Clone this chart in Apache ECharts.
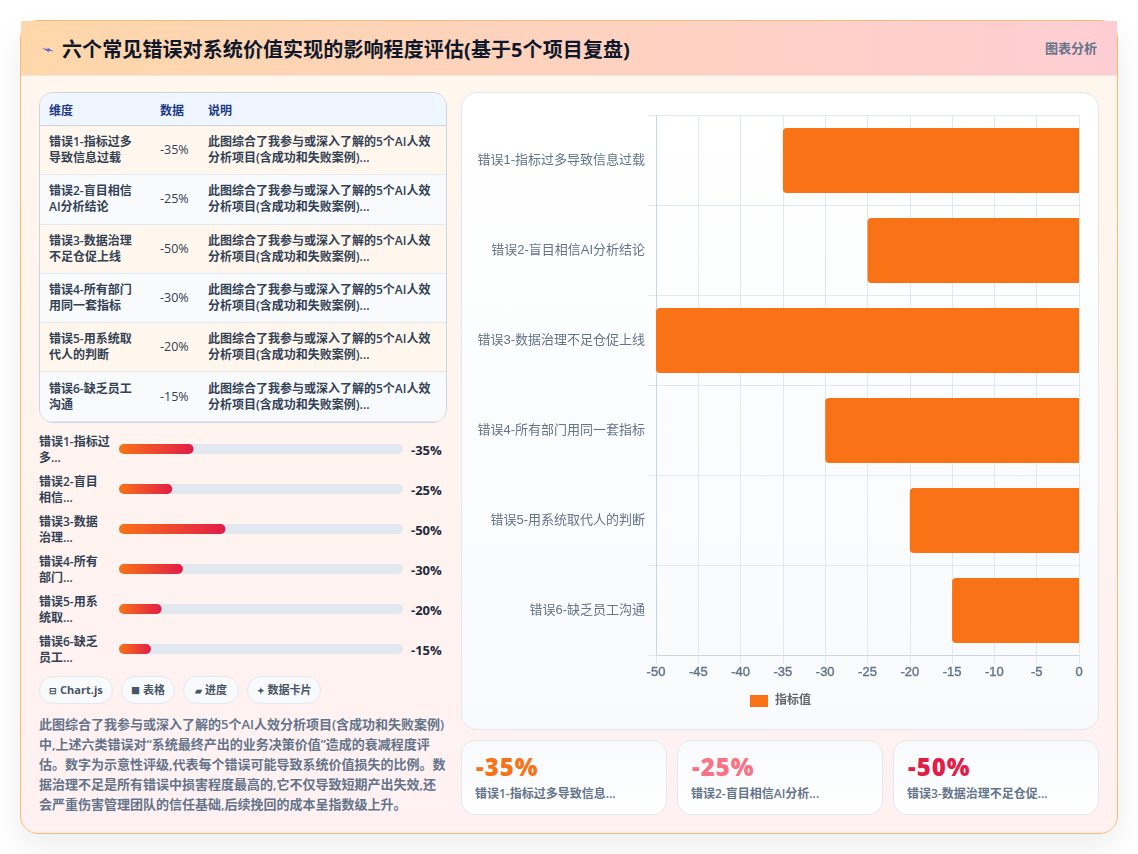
<!DOCTYPE html>
<html lang="zh-CN">
<head>
<meta charset="utf-8">
<title>六个常见错误对系统价值实现的影响程度评估</title>
<script src="https://cdn.jsdelivr.net/npm/echarts@6/dist/echarts.min.js"></script>
<style>
  * { box-sizing: border-box; margin: 0; padding: 0; }
  html, body { width: 1138px; height: 854px; background: #fff; overflow: hidden;
    font-family: "Open Sans", "Noto Sans CJK SC", sans-serif; }
  .card { position: absolute; left: 20px; top: 20px; width: 1098px; height: 814px;
    border: 1px solid #fdba74; border-radius: 18px;
    background: linear-gradient(180deg, #fff7ed, #fff1f2);
    box-shadow: 0 12px 30px rgba(15, 23, 42, .08); }
  .head { position: absolute; left: 0; top: 0; width: 1096px; height: 55px;
    background: linear-gradient(90deg, #fed7aa, #fecdd3);
    border-bottom: 1px solid #f1e4dc; }
  .head svg { position: absolute; left: 21px; top: 26px; }
  .head h1 { position: absolute; left: 41px; top: 15px; font-size: 20px; line-height: 28px;
    font-weight: 700; color: #0f172a; white-space: nowrap; letter-spacing: .1px; }
  .head .tag { position: absolute; right: 20px; top: 18px; font-size: 13px; line-height: 18px;
    font-weight: 600; color: #64748b; }
  .tbl { position: absolute; left: 39px; top: 92px; width: 408px; height: 331px;
    border: 1px solid #cbd5e1; border-radius: 14px; overflow: hidden; }
  .tbl .row { position: absolute; left: 0; width: 406px; border-bottom: 1px solid #e2e8f0;
    font-size: 12px; line-height: 16px; font-weight: 600; color: #334155; }
  .tbl .row span { position: absolute; top: 50%; transform: translateY(-50%); }
  .tbl .row .c1 { left: 9px; width: 92px; }
  .tbl .row .c2 { left: 120px; font-weight: 400; font-size: 12.5px; }
  .tbl .row .c3 { left: 168px; width: 228px; }
  .tbl .th { background: #eff6ff; color: #1e3a8a; border-bottom-color: #cbd5e1; }
  .tbl .th span { top: 55%; }
  .plabel { position: absolute; left: 39px; width: 76px; font-size: 12px; line-height: 16px;
    font-weight: 600; color: #334155; }
  .pval { position: absolute; left: 411px; font-size: 13px; line-height: 16px;
    font-weight: 700; color: #1e293b; }
  .pills { position: absolute; left: 39px; top: 676px; display: flex; gap: 8px; }
  .pill { height: 28px; line-height: 26px; border: 1px solid #e2e8f0; text-align: center;
    border-radius: 14px; background: #f8fafc; font-size: 11px; font-weight: 700; color: #475569;
    white-space: nowrap; }
  .pill:nth-child(1), .pill:nth-child(4) { width: 74px; }
  .pill:nth-child(2) { width: 54px; }
  .pill:nth-child(3) { width: 56px; }
  .pill em { font-style: normal; font-size: 9px; }
  .note { position: absolute; left: 39px; top: 714px; width: 408px; font-size: 13px;
    line-height: 20px; font-weight: 600; color: #64748b; }
  .panel { position: absolute; left: 461px; top: 92px; width: 638px; height: 638px;
    border: 1px solid #e2e8f0; border-radius: 16px;
    background: linear-gradient(180deg, #fff, #f8fafc); }
  .kpi { position: absolute; top: 740px; width: 206px; height: 75px;
    border: 1px solid #e2e8f0; border-radius: 14px;
    background: linear-gradient(180deg, #f8fafc, #fff); }
  .kpi b { position: absolute; left: 14px; top: 10px; font-size: 24px; line-height: 32px;
    font-weight: 800; letter-spacing: 1px; }
  .kpi i { position: absolute; left: 13px; top: 45px; font-style: normal; font-size: 12px;
    line-height: 16px; font-weight: 600; color: #64748b; white-space: nowrap; }
  #chart { position: absolute; left: 0; top: 0; width: 1138px; height: 854px; }
</style>
</head>
<body>
<div class="card">
  <div class="head">
    <svg width="12" height="6" viewBox="0 0 12 6"><path d="M0 1 L6 2.2 L5 0.6 L12 4.6 L6.5 3.6 L7.5 5.4 Z" fill="#4f63d2"/></svg>
    <h1 id="title"></h1>
    <span class="tag" id="tag"></span>
  </div>
</div>
<div class="tbl" id="tbl"></div>
<div id="plist"></div>
<div class="pills" id="pills"></div>
<div class="note" id="note"></div>
<div class="panel"></div>
<div id="kpis"></div>
<div id="chart"></div>
<script>
// Chart content
const titleText = '六个常见错误对系统价值实现的影响程度评估(基于5个项目复盘)';
const tagText = '图表分析';
const categories = ['错误1-指标过多导致信息过载', '错误2-盲目相信AI分析结论', '错误3-数据治理不足仓促上线',
  '错误4-所有部门用同一套指标', '错误5-用系统取代人的判断', '错误6-缺乏员工沟通'];
const values = [-35, -25, -50, -30, -20, -15];
const tableHeads = ['维度', '数据', '说明'];
const tableNames = ['错误1-指标过多<br>导致信息过载', '错误2-盲目相信<br>AI分析结论', '错误3-数据治理<br>不足仓促上线',
  '错误4-所有部门<br>用同一套指标', '错误5-用系统取<br>代人的判断', '错误6-缺乏员工<br>沟通'];
const tableNote = '此图综合了我参与或深入了解的5个AI人效<br>分析项目(含成功和失败案例)...';
const progressNames = ['错误1-指标过<br>多...', '错误2-盲目<br>相信...', '错误3-数据<br>治理...',
  '错误4-所有<br>部门...', '错误5-用系<br>统取...', '错误6-缺乏<br>员工...'];
const pillIcons = ['⊟', '■', '▰', '✦'];
const pillTexts = ['Chart.js', '表格', '进度', '数据卡片'];
const noteText = '此图综合了我参与或深入了解的5个AI人效分析项目(含成功和失败案例)中,上述六类错误对“系统最终产出的业务决策价值”造成的衰减程度评估。数字为示意性评级,代表每个错误可能导致系统价值损失的比例。数据治理不足是所有错误中损害程度最高的,它不仅导致短期产出失效,还会严重伤害管理团队的信任基础,后续挽回的成本呈指数级上升。';
const kpiNames = ['错误1-指标过多导致信息...', '错误2-盲目相信AI分析...', '错误3-数据治理不足仓促...'];
const kpiColors = ['#f97316', '#fb7185', '#e11d48'];
const legendName = '指标值';

document.getElementById('title').textContent = titleText;
document.getElementById('tag').textContent = tagText;
document.getElementById('note').textContent = noteText;

// Comparison table
const headHeight = 33;
const rowHeight = 49.3;
let tblHtml = `<div class="row th" style="top:0;height:${headHeight}px"><span class="c1">${tableHeads[0]}</span>` +
  `<span class="c2" style="font-weight:600;font-size:12px">${tableHeads[1]}</span><span class="c3">${tableHeads[2]}</span></div>`;
categories.forEach((_, i) => {
  const bg = i % 2 ? '#f8fafc' : '#fff7ed';
  tblHtml += `<div class="row" style="top:${headHeight + i * rowHeight}px;height:${rowHeight}px;background:${bg}">` +
    `<span class="c1">${tableNames[i]}</span><span class="c2">${values[i]}%</span><span class="c3">${tableNote}</span></div>`;
});
document.getElementById('tbl').innerHTML = tblHtml;

// Labels beside the progress bars
document.getElementById('plist').innerHTML = categories.map((_, i) =>
  `<div class="plabel" style="top:${434 + i * 40}px">${progressNames[i]}</div>` +
  `<div class="pval" style="top:${442 + i * 40}px">${values[i]}%</div>`).join('');

document.getElementById('pills').innerHTML = pillTexts.map((t, i) =>
  `<div class="pill"><em>${pillIcons[i]}</em> ${t}</div>`).join('');

// Headline figure cards
document.getElementById('kpis').innerHTML = kpiNames.map((n, i) =>
  `<div class="kpi" style="left:${461 + i * 216}px"><b style="color:${kpiColors[i]}">${values[i]}%</b><i>${n}</i></div>`).join('');

const chart = echarts.init(document.getElementById('chart'), null, { renderer: 'canvas' });
const chartFont = '"Liberation Sans", "Noto Sans CJK SC", sans-serif';
chart.setOption({
  backgroundColor: 'transparent',
  animation: false,
  legend: {
    data: [legendName], left: 750, top: 695, itemWidth: 18, itemHeight: 12, itemGap: 6,
    icon: 'rect', padding: 0,
    textStyle: { fontFamily: chartFont, fontSize: 12, fontWeight: 'bold', color: '#666', padding: [0, 0, 0, 2] }
  },
  grid: [
    { left: 656, top: 115.5, width: 423, height: 540 },
    { left: 119, top: 429, width: 284, height: 240 }
  ],
  xAxis: [
    {
      gridIndex: 0, type: 'value', min: -50, max: 0, interval: 5,
      axisLine: { show: true, lineStyle: { color: '#cbd5e1' } },
      axisTick: { show: true, length: 8, lineStyle: { color: '#e2e8f0' } },
      splitLine: { show: true, lineStyle: { color: '#e2e8f0' } },
      axisLabel: { fontFamily: chartFont, fontSize: 13, color: '#64748b', margin: 10,
        textBorderColor: '#64748b', textBorderWidth: 0.4 }
    },
    { gridIndex: 1, type: 'value', min: 0, max: 133.33, show: false }
  ],
  yAxis: [
    {
      gridIndex: 0, type: 'category', data: categories, inverse: true,
      axisLine: { show: true, onZero: false, lineStyle: { color: '#cbd5e1' } },
      axisTick: { show: true, length: 8, lineStyle: { color: '#e2e8f0' } },
      splitLine: { show: true, lineStyle: { color: '#e2e8f0' } },
      axisLabel: { fontFamily: chartFont, fontSize: 13, color: '#64748b', margin: 11 }
    },
    { gridIndex: 1, type: 'category', data: categories, inverse: true, show: false }
  ],
  series: [
    {
      name: legendName, type: 'bar', xAxisIndex: 0, yAxisIndex: 0, data: values,
      barWidth: '72%',
      itemStyle: { color: '#f97316', borderRadius: [4, 0, 0, 4] }
    },
    {
      name: '进度', type: 'bar', xAxisIndex: 1, yAxisIndex: 1, data: values.map(Math.abs),
      barWidth: 10, showBackground: true,
      backgroundStyle: { color: '#e2e8f0', borderRadius: 5, opacity: 1 },
      itemStyle: {
        borderRadius: 5,
        color: new echarts.graphic.LinearGradient(0, 0, 1, 0, [
          { offset: 0, color: '#f97316' }, { offset: 1, color: '#e11d48' }
        ])
      }
    }
  ]
});
</script>
</body>
</html>
